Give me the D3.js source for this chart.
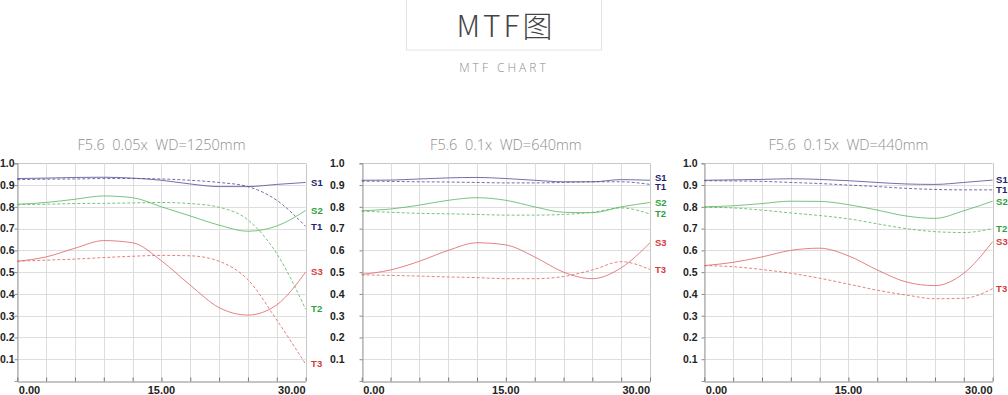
<!DOCTYPE html>
<html>
<head>
<meta charset="utf-8">
<script src="https://cdn.jsdelivr.net/npm/d3@7"></script>
<style>
  html, body { margin: 0; padding: 0; background: #fff; }
  svg { display: block; }
</style>
</head>
<body>
<svg id="chart" width="1008" height="395"></svg>
<script>
// ---- data ----
const fieldX = [0, 3, 6, 9, 12, 15, 18, 21, 24, 27, 30];
const xTickLabels = ["0.00", "15.00", "30.00"];
const xTickValues = [0, 15, 30];
const yTickValues = [0.1, 0.2, 0.3, 0.4, 0.5, 0.6, 0.7, 0.8, 0.9, 1.0];
const panelTitles = ["F5.6  0.05x  WD=1250mm", "F5.6  0.1x  WD=640mm", "F5.6  0.15x  WD=440mm"];
const seriesNames = ["S1", "T1", "S2", "T2", "S3", "T3"];

const p1_S1 = [0.930, 0.932, 0.935, 0.936, 0.932, 0.922, 0.905, 0.893, 0.893, 0.903, 0.912];
const p1_T1 = [0.925, 0.927, 0.928, 0.930, 0.930, 0.928, 0.922, 0.912, 0.893, 0.830, 0.710];
const p1_S2 = [0.812, 0.820, 0.835, 0.850, 0.842, 0.800, 0.758, 0.716, 0.688, 0.712, 0.783];
const p1_T2 = [0.810, 0.812, 0.815, 0.816, 0.818, 0.820, 0.815, 0.798, 0.740, 0.585, 0.330];
const p1_S3 = [0.550, 0.570, 0.610, 0.645, 0.635, 0.552, 0.440, 0.337, 0.303, 0.350, 0.500];
const p1_T3 = [0.550, 0.555, 0.560, 0.567, 0.573, 0.577, 0.575, 0.550, 0.465, 0.280, 0.078];

const p2_S1 = [0.922, 0.923, 0.928, 0.933, 0.935, 0.930, 0.922, 0.915, 0.915, 0.925, 0.922];
const p2_T1 = [0.918, 0.917, 0.915, 0.914, 0.912, 0.910, 0.910, 0.912, 0.915, 0.915, 0.903];
const p2_S2 = [0.782, 0.790, 0.808, 0.830, 0.842, 0.830, 0.800, 0.775, 0.773, 0.800, 0.820];
const p2_T2 = [0.780, 0.775, 0.770, 0.768, 0.765, 0.762, 0.762, 0.765, 0.775, 0.795, 0.767];
const p2_S3 = [0.490, 0.510, 0.550, 0.600, 0.635, 0.625, 0.570, 0.500, 0.470, 0.520, 0.635];
const p2_T3 = [0.488, 0.485, 0.482, 0.478, 0.475, 0.470, 0.470, 0.480, 0.510, 0.548, 0.512];

const p3_S1 = [0.922, 0.924, 0.926, 0.929, 0.926, 0.920, 0.912, 0.905, 0.903, 0.912, 0.923];
const p3_T1 = [0.920, 0.919, 0.917, 0.912, 0.907, 0.900, 0.893, 0.885, 0.880, 0.878, 0.878];
const p3_S2 = [0.800, 0.805, 0.815, 0.826, 0.825, 0.810, 0.785, 0.758, 0.747, 0.782, 0.826];
const p3_T2 = [0.798, 0.795, 0.785, 0.772, 0.760, 0.745, 0.722, 0.700, 0.686, 0.682, 0.700];
const p3_S3 = [0.530, 0.545, 0.570, 0.600, 0.610, 0.575, 0.510, 0.455, 0.438, 0.495, 0.640];
const p3_T3 = [0.530, 0.525, 0.512, 0.495, 0.472, 0.445, 0.417, 0.395, 0.378, 0.380, 0.424];

const panelSeries = [
  [p1_S1, p1_T1, p1_S2, p1_T2, p1_S3, p1_T3],
  [p2_S1, p2_T1, p2_S2, p2_T2, p2_S3, p2_T3],
  [p3_S1, p3_T1, p3_S2, p3_T2, p3_S3, p3_T3]
];

// ---- styles / layout ----
const lineColors  = { 1: "#4e4e94", 2: "#55b55e", 3: "#e06262" };
const labelColors = { 1: "#22226a", 2: "#2e9e3e", 3: "#d8393b" };
const panelLeft = [17.3, 361.7, 704.3];
const panelWidth = 288.3;
const yLabelGap = [0, 15, 4];
const labelOffset = [5.5, 5, 3.5];
const plotTop = 163.3, plotBottom = 381;

const svg = d3.select("#chart");

// header
svg.append("rect")
  .attr("x", 406.5).attr("y", -0.5).attr("width", 195).attr("height", 50.5)
  .attr("fill", "#fff").attr("stroke", "#e4e4e4").attr("stroke-width", 1);
svg.append("text")
  .attr("x", 506).attr("y", 37)
  .attr("text-anchor", "middle")
  .attr("font-family", "'Noto Sans CJK SC', 'Noto Sans', sans-serif")
  .attr("font-weight", 300)
  .attr("font-size", 30)
  .attr("letter-spacing", 3)
  .attr("fill", "#444")
  .text("MTF图");
svg.append("text")
  .attr("x", 504).attr("y", 72)
  .attr("text-anchor", "middle")
  .attr("font-family", "'Open Sans', 'Noto Sans', sans-serif")
  .attr("font-weight", 300)
  .attr("font-size", 12)
  .attr("letter-spacing", 3)
  .attr("fill", "#8c8c8c")
  .text("MTF CHART");

const y = d3.scaleLinear().domain([0, 1]).range([plotBottom, plotTop]);
const gridX = d3.range(0, 31, 3);

panelSeries.forEach((series, pi) => {
  const x0 = panelLeft[pi], x1 = x0 + panelWidth;
  const x = d3.scaleLinear().domain([0, 30]).range([x0, x1]);
  const g = svg.append("g");

  // title
  g.append("text")
    .attr("x", (x0 + x1) / 2).attr("y", 150)
    .attr("text-anchor", "middle")
    .attr("font-family", "'Open Sans', 'Noto Sans', sans-serif")
    .attr("font-weight", 300)
    .attr("font-size", 14.5)
    .attr("fill", "#8e8e8e")
    .attr("xml:space", "preserve")
    .style("white-space", "pre")
    .text(panelTitles[pi]);

  // grid
  g.selectAll(".hg").data(yTickValues).enter().append("line")
    .attr("x1", x0).attr("x2", x1)
    .attr("y1", d => Math.round(y(d)) + 0.5).attr("y2", d => Math.round(y(d)) + 0.5)
    .attr("stroke", d => d === 1 ? "#c8c8c8" : "#dedede").attr("stroke-width", 1);
  g.selectAll(".vg").data(gridX).enter().append("line")
    .attr("x1", d => Math.round(x(d)) + 0.5).attr("x2", d => Math.round(x(d)) + 0.5)
    .attr("y1", plotTop).attr("y2", plotBottom)
    .attr("stroke", d => d === 30 ? "#c8c8c8" : "#dedede").attr("stroke-width", 1);

  // axes
  const yAxis = d3.axisLeft(y).tickValues(yTickValues).tickSize(3).tickPadding(yLabelGap[pi])
    .tickFormat(d3.format(".1f"));
  const ya = g.append("g").attr("transform", `translate(${Math.round(x0) + 0.5},0)`).call(yAxis);
  ya.select(".domain").attr("stroke", "#9a9a9a");
  ya.selectAll(".tick line").attr("stroke", "#888");
  ya.selectAll("text").attr("font-family", "'Liberation Sans', Arial, sans-serif")
    .attr("font-weight", "bold").attr("font-size", 10.5).attr("fill", "#222");

  const xAxis = d3.axisBottom(x).tickValues(gridX).tickSizeInner(-4).tickSizeOuter(0).tickFormat("");
  const xa = g.append("g").attr("transform", `translate(0,${Math.round(plotBottom) + 0.5})`).call(xAxis);
  xa.select(".domain").attr("stroke", "#8a8a8a");
  xa.selectAll(".tick line").attr("stroke", "#777");

  g.selectAll(".xl").data(xTickValues).enter().append("text")
    .attr("x", (d, i) => i === 0 ? x(d) + 1.5 : x(d))
    .attr("y", 394)
    .attr("text-anchor", (d, i) => i === 0 ? "start" : (i === xTickValues.length - 1 ? "end" : "middle"))
    .attr("font-family", "'Liberation Sans', Arial, sans-serif")
    .attr("font-weight", "bold").attr("font-size", 11).attr("fill", "#222")
    .text((d, i) => xTickLabels[i]);

  // lines
  const line = d3.line().x((d, i) => x(fieldX[i])).y(d => y(d)).curve(d3.curveMonotoneX);
  series.forEach((vals, si) => {
    const name = seriesNames[si];
    const grp = +name[1];
    const dashed = name[0] === "T";
    g.append("path")
      .datum(vals)
      .attr("d", line)
      .attr("fill", "none")
      .attr("stroke", lineColors[grp])
      .attr("stroke-width", 1)
      .attr("stroke-opacity", 0.8)
      .attr("stroke-dasharray", dashed ? "3,2" : null);
  });

  // end labels with simple collision avoidance
  const labels = series.map((vals, si) => ({ name: seriesNames[si], yy: y(vals[vals.length - 1]) }));
  labels.sort((a, b) => a.yy - b.yy);
  const minGap = 9.5;
  for (let iter = 0; iter < 20; iter++) {
    for (let i = 1; i < labels.length; i++) {
      const d = labels[i].yy - labels[i - 1].yy;
      if (d < minGap) {
        const push = (minGap - d) / 2;
        labels[i - 1].yy -= push;
        labels[i].yy += push;
      }
    }
  }
  g.selectAll(".sl").data(labels).enter().append("text")
    .attr("x", x1 + labelOffset[pi])
    .attr("y", d => d.yy)
    .attr("dy", "0.35em")
    .attr("font-family", "'Liberation Sans', Arial, sans-serif")
    .attr("font-weight", "bold").attr("font-size", 9.5)
    .attr("fill", d => labelColors[+d.name[1]])
    .text(d => d.name);
});
</script>
</body>
</html>
